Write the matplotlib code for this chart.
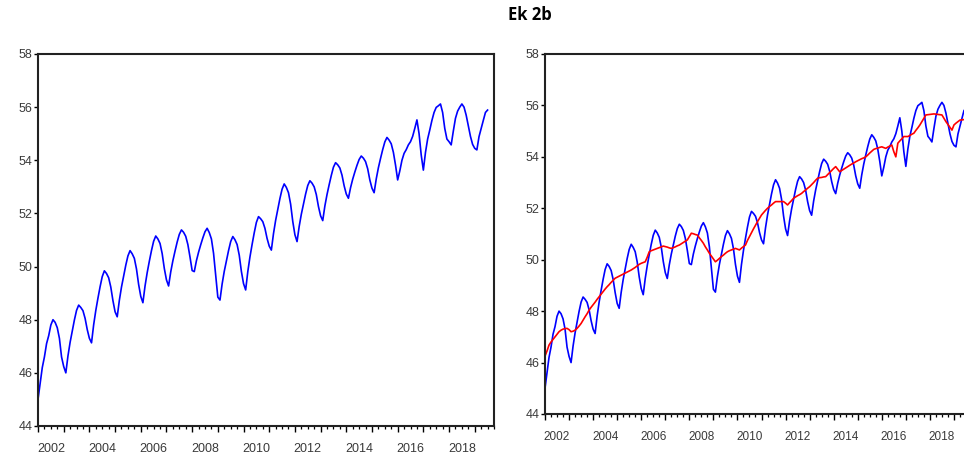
import numpy as np
import matplotlib
matplotlib.use("Agg")
import matplotlib.pyplot as plt
from matplotlib.ticker import MultipleLocator

# --- data: monthly series, 2002M01 .. 2019M07 ---
start_year = 2002
blue_series = [
    45.0, 45.6, 46.2, 46.6, 47.1, 47.4, 47.8, 48.0, 47.9, 47.7, 47.3, 46.6,        # 2002
    46.24, 46.0, 46.64, 47.15, 47.58, 47.99, 48.35, 48.55, 48.46, 48.34, 48.05, 47.63,  # 2003
    47.30, 47.13, 47.81, 48.35, 48.81, 49.24, 49.62, 49.84, 49.74, 49.58, 49.23, 48.72,  # 2004
    48.3, 48.11, 48.73, 49.23, 49.65, 50.05, 50.40, 50.60, 50.48, 50.31, 49.91, 49.33,  # 2005
    48.88, 48.64, 49.27, 49.77, 50.20, 50.60, 50.95, 51.15, 51.04, 50.87, 50.49, 49.93,  # 2006
    49.50, 49.27, 49.80, 50.22, 50.58, 50.92, 51.21, 51.38, 51.29, 51.14, 50.83, 50.36,  # 2007
    49.85, 49.81, 50.22, 50.54, 50.82, 51.08, 51.31, 51.44, 51.28, 51.04, 50.50, 49.69,  # 2008
    48.85, 48.74, 49.34, 49.82, 50.22, 50.60, 50.94, 51.13, 51.01, 50.83, 50.43, 49.82,  # 2009
    49.36, 49.12, 49.81, 50.36, 50.83, 51.27, 51.66, 51.88, 51.80, 51.69, 51.44, 51.06,  # 2010
    50.77, 50.62, 51.24, 51.74, 52.16, 52.56, 52.91, 53.11, 52.98, 52.78, 52.35, 51.70,  # 2011
    51.20, 50.94, 51.51, 51.97, 52.36, 52.73, 53.05, 53.23, 53.14, 53.00, 52.71, 52.26,  # 2012
    51.91, 51.73, 52.28, 52.71, 53.08, 53.43, 53.74, 53.91, 53.83, 53.71, 53.44, 53.04,  # 2013
    52.73, 52.57, 52.97, 53.29, 53.56, 53.81, 54.03, 54.16, 54.08, 53.95, 53.68, 53.26,  # 2014
    52.95, 52.78, 53.30, 53.72, 54.07, 54.40, 54.69, 54.86, 54.76, 54.62, 54.30, 53.82,  # 2015
    53.26, 53.6, 54.0, 54.26, 54.4, 54.58, 54.7, 54.9, 55.2, 55.52, 55.0, 54.2,        # 2016
    53.63, 54.3, 54.8, 55.14, 55.5, 55.8, 55.99, 56.05, 56.12, 55.8, 55.2, 54.8,       # 2017
    54.7, 54.58, 55.1, 55.58, 55.85, 56.0, 56.12, 56.0, 55.7, 55.3, 54.9, 54.6,        # 2018
    54.45, 54.39, 54.89, 55.2, 55.5, 55.8, 55.89,                                       # 2019
]
red_trend = [
    46.25, 46.45, 46.68, 46.8, 46.9, 47.0, 47.1, 47.2, 47.26, 47.3, 47.32, 47.33,      # 2002
    47.28, 47.2, 47.22, 47.26, 47.33, 47.42, 47.52, 47.65, 47.78, 47.9, 48.04, 48.15,  # 2003
    48.25, 48.35, 48.46, 48.56, 48.66, 48.76, 48.86, 48.95, 49.03, 49.12, 49.2, 49.28, # 2004
    49.32, 49.36, 49.40, 49.44, 49.48, 49.52, 49.56, 49.6, 49.65, 49.7, 49.76, 49.82,  # 2005
    49.86, 49.89, 49.92, 50.1, 50.31, 50.35, 50.38, 50.41, 50.44, 50.47, 50.5, 50.53,  # 2006
    50.51, 50.49, 50.46, 50.44, 50.47, 50.5, 50.54, 50.57, 50.62, 50.67, 50.72, 50.77, # 2007
    50.9, 51.03, 51.01, 50.98, 50.96, 50.85, 50.75, 50.64, 50.5, 50.38, 50.25, 50.14,  # 2008
    50.03, 49.92, 49.98, 50.05, 50.12, 50.18, 50.25, 50.31, 50.35, 50.38, 50.41, 50.44, # 2009
    50.41, 50.38, 50.45, 50.51, 50.57, 50.75, 50.9, 51.05, 51.2, 51.34, 51.48, 51.61,  # 2010
    51.74, 51.83, 51.92, 52.0, 52.07, 52.13, 52.2, 52.26, 52.26, 52.26, 52.26, 52.26,  # 2011
    52.2, 52.13, 52.22, 52.3, 52.39, 52.44, 52.49, 52.53, 52.58, 52.65, 52.71, 52.78,  # 2012
    52.84, 52.92, 53.0, 53.09, 53.17, 53.19, 53.2, 53.22, 53.23, 53.31, 53.39, 53.47,  # 2013
    53.55, 53.62, 53.52, 53.42, 53.47, 53.52, 53.57, 53.62, 53.67, 53.72, 53.76, 53.81, # 2014
    53.85, 53.89, 53.93, 53.96, 54.0, 54.07, 54.15, 54.22, 54.29, 54.32, 54.34, 54.37, # 2015
    54.39, 54.36, 54.33, 54.38, 54.42, 54.46, 54.2, 54.0, 54.53, 54.62, 54.7, 54.79,   # 2016
    54.79, 54.79, 54.83, 54.88, 54.92, 55.03, 55.13, 55.24, 55.37, 55.5, 55.63, 55.64, # 2017
    55.65, 55.66, 55.67, 55.66, 55.65, 55.64, 55.63, 55.5, 55.37, 55.26, 55.15, 55.04, # 2018
    55.24, 55.31, 55.37, 55.43, 55.44, 55.45, 55.46,                                   # 2019
]
year_labels = ['2002', '2004', '2006', '2008', '2010', '2012', '2014', '2016', '2018']
y_ticks = [44, 46, 48, 50, 52, 54, 56, 58]

t = start_year + np.arange(len(blue_series)) / 12.0
X_END = 2019.75

fig = plt.figure(figsize=(9.64, 4.59), dpi=100)
fig.text(0.550, 0.968, 'Ek 2b', ha='center', va='center', fontsize=12,
         fontweight='bold', family='Open Sans')

TICK_COLOR = '#3a3a3a'


def style_axes(ax, label_size):
    ax.set_xlim(start_year, X_END)
    ax.set_ylim(44, 58)
    ax.set_yticks(y_ticks)
    ax.set_yticklabels([str(v) for v in y_ticks])
    ax.tick_params(axis='y', direction='out', length=3, width=1.0, pad=1,
                   labelsize=9, labelcolor=TICK_COLOR)
    # year ticks (no labels) + quarterly minor ticks
    ax.xaxis.set_major_locator(MultipleLocator(1))
    ax.xaxis.set_minor_locator(MultipleLocator(0.25))
    ax.tick_params(axis='x', which='major', direction='out', length=4.5, width=1.0,
                   labelbottom=False)
    ax.tick_params(axis='x', which='minor', direction='out', length=2.5, width=0.9)
    for s in ax.spines.values():
        s.set_linewidth(1.5)
        s.set_color('#222222')
    # labels centred in the middle of each labelled year
    sec = ax.secondary_xaxis('bottom')
    sec.set_xticks([int(y) + 0.5 for y in year_labels])
    sec.set_xticklabels(year_labels)
    sec.tick_params(length=0, pad=12, labelsize=label_size, labelcolor=TICK_COLOR)
    sec.spines['bottom'].set_visible(False)
    for lab in ax.get_yticklabels() + sec.get_xticklabels():
        lab.set_family('Liberation Sans')


ax1 = fig.add_axes([38 / 964, 1 - 426 / 459, 456 / 964, 372 / 459])
ax1.plot(t, blue_series, color='#0000ff', lw=1.2)
style_axes(ax1, 9)

ax2 = fig.add_axes([545 / 964, 1 - 414 / 459, 427 / 964, 360 / 459])
ax2.plot(t, blue_series, color='#0000ff', lw=1.2)
ax2.plot(t, red_trend, color='#ff0000', lw=1.2)
style_axes(ax2, 8.5)

fig.savefig('out.png', dpi=100)
